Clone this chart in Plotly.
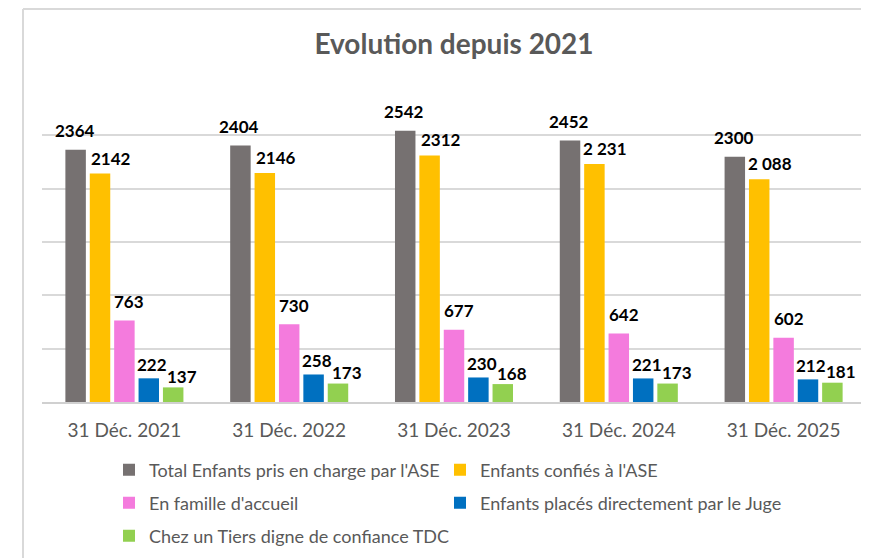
import plotly.graph_objects as go

categories = ["31 Déc. 2021", "31 Déc. 2022", "31 Déc. 2023", "31 Déc. 2024", "31 Déc. 2025"]

series_names = [
    "Total Enfants pris en charge par l'ASE",
    "Enfants confiés à l'ASE",
    "En famille d'accueil",
    "Enfants placés directement par le Juge",
    "Chez un Tiers digne de confiance TDC",
]

total_ase = [2364, 2404, 2542, 2452, 2300]
confies_ase = [2142, 2146, 2312, 2231, 2088]
famille_accueil = [763, 730, 677, 642, 602]
places_juge = [222, 258, 230, 221, 212]
tiers_tdc = [137, 173, 168, 173, 181]

total_labels = ["2364", "2404", "2542", "2452", "2300"]
confies_labels = ["2142", "2146", "2312", "2 231", "2 088"]
famille_labels = ["763", "730", "677", "642", "602"]
juge_labels = ["222", "258", "230", "221", "212"]
tdc_labels = ["137", "173", "168", "173", "181"]

colors = ["#767171", "#FFC000", "#F47BDD", "#0070C0", "#92D050"]

values = [total_ase, confies_ase, famille_accueil, places_juge, tiers_tdc]
labels = [total_labels, confies_labels, famille_labels, juge_labels, tdc_labels]
legend_ids = ["legend", "legend", "legend2", "legend2", "legend3"]
legend_widths = [286, 380, 286, 380, 380]

# page body has an 8px margin: the figure is drawn from (8, 8)
OFF = 8
W, H = 869 - OFF, 558 - OFF
ML, MR, MT, MB = 42 - OFF, 3, 82 - OFF, 156
PW = W - ML - MR
PH = H - MT - MB

BARGAP = 0.26
BARGROUPGAP = 0.16
cat_w = PW / len(categories)
slot = cat_w * (1 - BARGAP) / len(values)

# label offsets (pixels) per series: horizontal nudge, vertical distance above bar top
lab_dx = [-1, 11, 5, 3.5, 9]
lab_dy = [19, 15.5, 19, 14, 11]

fig = go.Figure()
for i, (name, vals, col, lg, lw) in enumerate(zip(series_names, values, colors, legend_ids, legend_widths)):
    fig.add_trace(go.Bar(
        x=categories, y=vals, name=name, marker=dict(color=col, line=dict(width=0)),
        legend=lg, legendwidth=lw, hoverinfo="skip",
    ))

annotations = []
for i, (vals, labs) in enumerate(zip(values, labels)):
    for c, v, t in zip(categories, vals, labs):
        annotations.append(dict(
            x=c, y=v, xref="x", yref="y", text=t, showarrow=False,
            xshift=(i - 2) * slot + lab_dx[i], yshift=lab_dy[i],
            yanchor="middle", xanchor="center",
            font=dict(family="Lato", size=17, color="#000000", weight="bold"),
        ))

# helpers: page pixel -> paper coordinates
def py(p):
    return (H - MB - (p - OFF)) / PH

def px(p):
    return (p - OFF - ML) / PW

shapes = [
    dict(type="line", xref="paper", yref="paper", x0=px(23), x1=px(23), y0=py(9), y1=py(570),
         line=dict(color="#d9d9d9", width=2)),
    dict(type="line", xref="paper", yref="paper", x0=px(23), x1=px(880), y0=py(9), y1=py(9),
         line=dict(color="#d9d9d9", width=2)),
]

leg_common = dict(
    orientation="h", xref="container", yref="container", xanchor="left", yanchor="middle",
    entrywidthmode="pixels", bgcolor="rgba(0,0,0,0)",
    font=dict(family="Lato", size=18, color="#595959"), itemclick=False,
)

def ly(p):
    return 1 - (p - OFF) / H

fig.update_layout(
    width=W, height=H,
    margin=dict(l=ML, r=MR, t=MT, b=MB),
    paper_bgcolor="white", plot_bgcolor="white",
    barmode="group", bargap=BARGAP, bargroupgap=BARGROUPGAP,
    title=dict(text="<b>Evolution depuis 2021</b>", x=0.5, xanchor="center", xref="paper",
               y=ly(44), yanchor="middle",
               font=dict(family="Lato", size=28, color="#595959")),
    xaxis=dict(showgrid=False, showline=True, linecolor="#d0d0d0", linewidth=1.5,
               ticks="", tickfont=dict(family="Lato", size=19, color="#595959"),
               ticklabelstandoff=10, fixedrange=True),
    yaxis=dict(range=[0, 3000], dtick=500, showgrid=True, gridcolor="#d9d9d9", gridwidth=1.5,
               showticklabels=False, zeroline=False, fixedrange=True),
    legend=dict(leg_common, x=(109 - OFF) / W, y=ly(470)),
    legend2=dict(leg_common, x=(109 - OFF) / W, y=ly(503)),
    legend3=dict(leg_common, x=(109 - OFF) / W, y=ly(536)),
    annotations=annotations,
    shapes=shapes,
    showlegend=True,
)

fig.write_html("out.html")
